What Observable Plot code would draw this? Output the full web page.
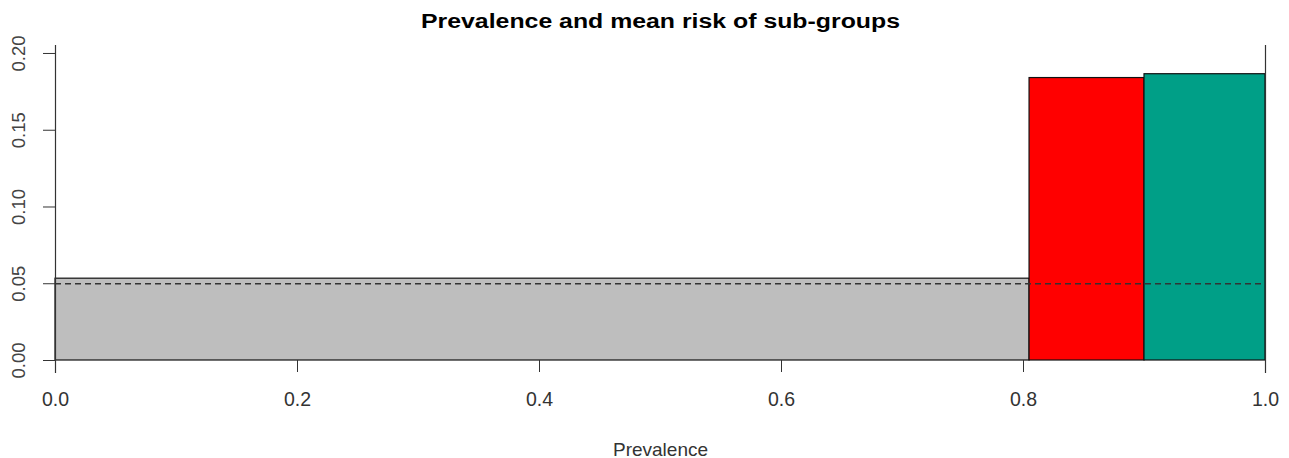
<!DOCTYPE html>
<html><head><meta charset="utf-8">
<script src="https://cdn.jsdelivr.net/npm/d3@7"></script>
<script src="https://cdn.jsdelivr.net/npm/@observablehq/plot@0.6"></script>
<style>body{margin:0;background:#fff;font-family:"Liberation Sans",Arial,sans-serif;}</style>
</head><body><div id="chart"></div>
<script>
const groups = ["rest", "group A", "group B"];
const prevStart = [0, 0.805, 0.9];
const prevEnd = [0.805, 0.9, 1.0];
const meanRisk = [0.0533, 0.184, 0.1865];
const fills = ["#BEBEBE", "#FF0000", "#009F87"];
const overallRisk = 0.05;
const xTicks = [0, 0.2, 0.4, 0.6, 0.8, 1.0];
const yTicks = [0, 0.05, 0.10, 0.15, 0.20];
const title = "Prevalence and mean risk of sub-groups";
const xLabel = "Prevalence";

const data = groups.map((g, i) => ({g, x1: prevStart[i], x2: prevEnd[i], y: meanRisk[i], fill: fills[i]}));

const chart = Plot.plot({
  width: 1289, height: 458,
  marginLeft: 55, marginRight: 24, marginTop: 45, marginBottom: 98,
  style: {fontFamily: '"Liberation Sans", Arial, sans-serif', fontSize: "16px", color: "#333", background: "#fff"},
  x: {domain: [0, 1]},
  y: {domain: [0, 0.2052]},
  marks: [
    Plot.rectY(data, {x1: "x1", x2: "x2", y1: 0, y2: "y", fill: "fill", stroke: "#111", strokeWidth: 1.2}),
    Plot.ruleY([overallRisk], {stroke: "#333", strokeWidth: 1.3, strokeDasharray: "6,4"}),
    Plot.ruleX([0, 1], {y1: -0.0085, y2: 0.2052, stroke: "#333", strokeWidth: 1.2}),
    Plot.axisY({ticks: yTicks, tickFormat: d3.format(".2f"), tickSize: 12, tickPadding: 19, tickRotate: -90, label: null, stroke: "#333", fill: "#444", fontSize: 18.5}),
    Plot.axisX({ticks: xTicks, tickFormat: d3.format(".1f"), tickSize: 12, tickPadding: 20, label: null, stroke: "#333", fill: "#333", fontSize: 19.5}),
    Plot.text([xLabel], {frameAnchor: "bottom", dy: 95, lineAnchor: "bottom", fontSize: 19, fill: "#333"}),
    Plot.text([title], {frameAnchor: "top", dy: -18, lineAnchor: "bottom", fontSize: 19.5, fontWeight: "bold", fill: "#000"})
  ]
});
d3.select(chart).selectAll("text").filter(function(){ return this.textContent === title; })
  .attr("textLength", 479).attr("lengthAdjust", "spacingAndGlyphs");
document.getElementById("chart").appendChild(chart);
</script></body></html>
